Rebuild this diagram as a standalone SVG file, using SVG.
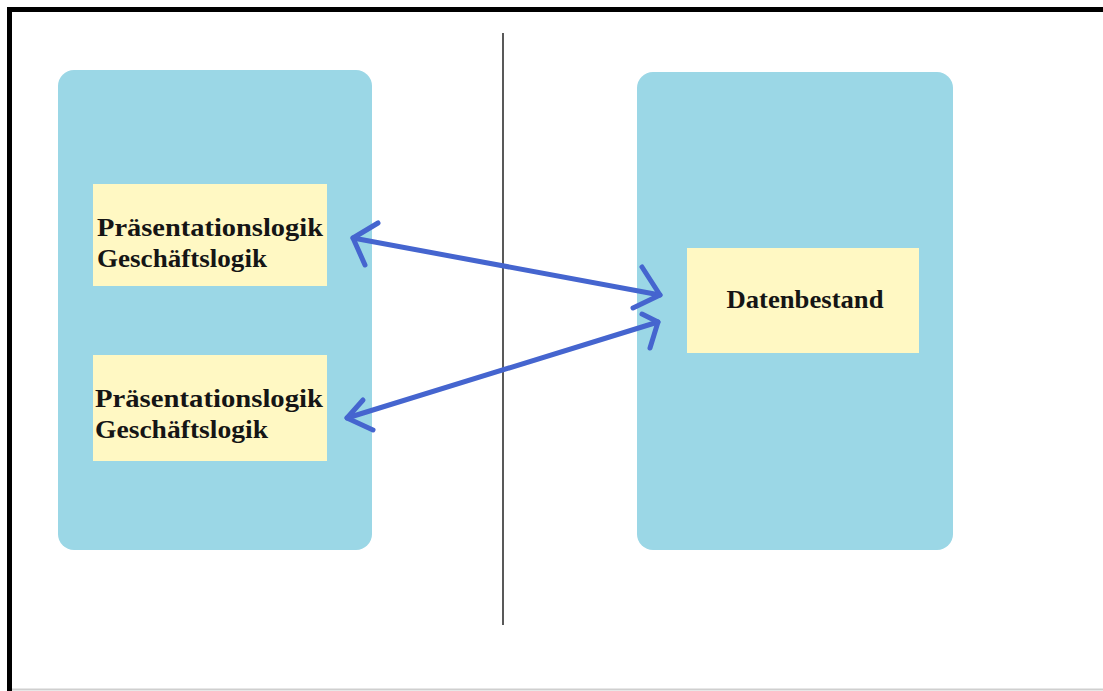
<svg xmlns="http://www.w3.org/2000/svg" width="1103" height="691" viewBox="0 0 1103 691">
  <style>
    .tier { fill: #9bd7e6; }
    .box { fill: #fff8c3; }
    .lbl { font-family: "Liberation Serif", "Times New Roman", serif; font-weight: bold; font-size: 25px; fill: #151515; }
    .link { fill: none; stroke: #4565cf; stroke-width: 5; stroke-linecap: round; stroke-linejoin: round; }
  </style>

  <!-- page background and frame -->
  <rect x="0" y="0" width="1103" height="691" fill="#ffffff"/>
  <path d="M9.5 691 V9.5 H1103" fill="none" stroke="#000000" stroke-width="5"/>
  <line x1="12" y1="689.5" x2="1103" y2="689.5" stroke="#cfcfcf" stroke-width="2"/>

  <!-- divider between client and server side -->
  <line x1="503" y1="33" x2="503" y2="625" stroke="#222222" stroke-width="1.5"/>

  <!-- client side -->
  <g id="client">
    <rect class="tier" x="58" y="70" width="314" height="480" rx="16"/>
  </g>
  <g id="client-app-1">
    <rect class="box" x="93" y="184" width="234" height="102"/>
    <text class="lbl" x="97" y="236" textLength="226" lengthAdjust="spacingAndGlyphs">Präsentationslogik</text>
    <text class="lbl" x="97" y="267" textLength="170" lengthAdjust="spacingAndGlyphs">Geschäftslogik</text>
  </g>
  <g id="client-app-2">
    <rect class="box" x="93" y="355" width="234" height="106"/>
    <text class="lbl" x="95" y="407" textLength="228" lengthAdjust="spacingAndGlyphs">Präsentationslogik</text>
    <text class="lbl" x="95" y="438" textLength="173" lengthAdjust="spacingAndGlyphs">Geschäftslogik</text>
  </g>

  <!-- server side -->
  <g id="server">
    <rect class="tier" x="637" y="72" width="316" height="478" rx="16"/>
  </g>
  <g id="datenbestand">
    <rect class="box" x="687" y="248" width="232" height="105"/>
    <text class="lbl" x="805" y="308" text-anchor="middle" textLength="157" lengthAdjust="spacingAndGlyphs">Datenbestand</text>
  </g>

  <!-- connectors -->
  <g id="connectors">
    <path class="link" d="M353 238 L660 295"/>
    <path class="link" d="M378 223 L353 238 L365 265"/>
    <path class="link" d="M642 267 L660 295 L633 308"/>
    <path class="link" d="M347 418 L658 322"/>
    <path class="link" d="M363 400 L347 418 L373 430"/>
    <path class="link" d="M642 314 L658 322 L650 348"/>
  </g>
</svg>
